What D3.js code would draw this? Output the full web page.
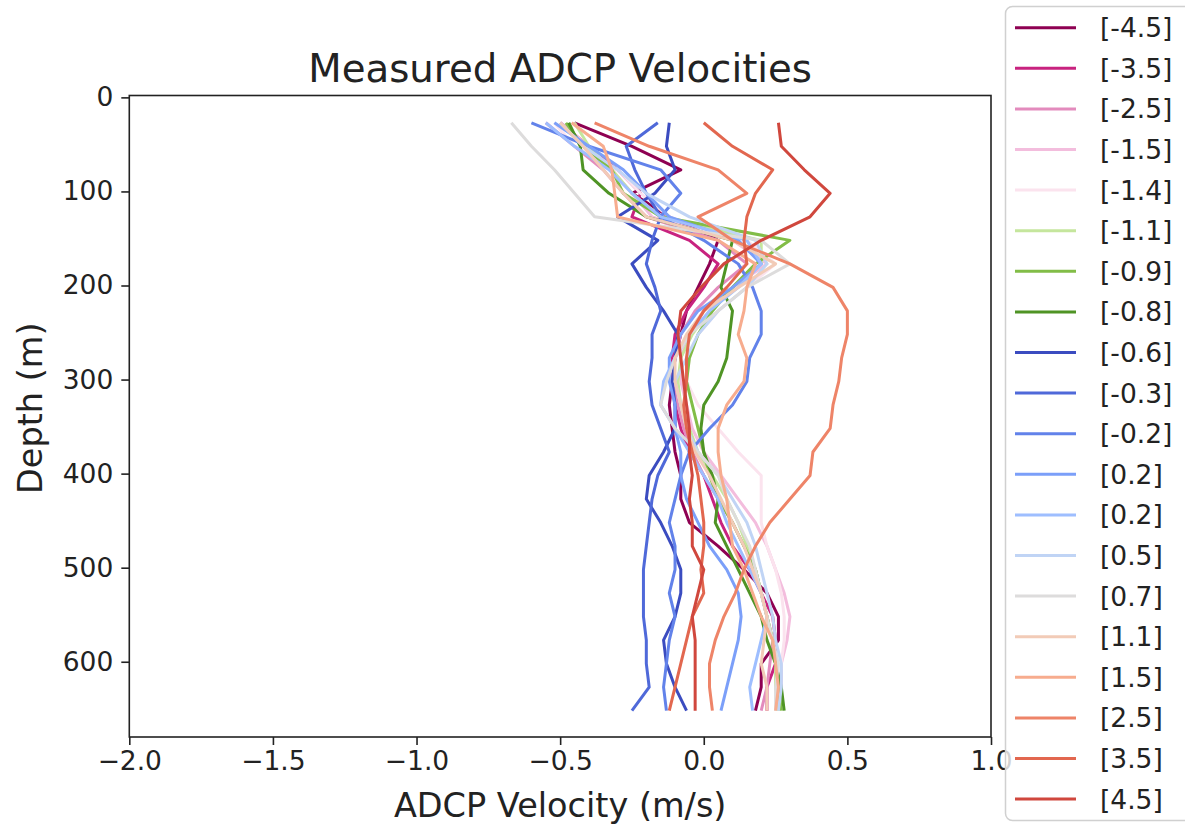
<!DOCTYPE html>
<html>
<head>
<meta charset="utf-8">
<script src="https://cdn.jsdelivr.net/npm/d3@7"></script>
<style>
  body { margin: 0; background: #fff; }
  svg text { font-family: "DejaVu Sans", sans-serif; fill: #222; }
</style>
</head>
<body>
<div id="chart"></div>
<script>
// depth bins (m)
const depths = [27, 52, 77, 102, 127, 152, 177, 202, 227, 252, 277, 302, 327,
                352, 377, 402, 427, 452, 477, 502, 527, 552, 577, 602, 627, 652];

const labels = ["[-4.5]", "[-3.5]", "[-2.5]", "[-1.5]", "[-1.4]", "[-1.1]", "[-0.9]", "[-0.8]",
                "[-0.6]", "[-0.3]", "[-0.2]", "[0.2]", "[0.2]", "[0.5]", "[0.7]", "[1.1]",
                "[1.5]", "[2.5]", "[3.5]", "[4.5]"];

const colors = ["#8e0152", "#c8237f", "#e38bbd", "#f3bddd", "#fbe3ee", "#c5e69d", "#82bd47", "#4f9425",
                "#3b4cc0", "#4f69d9", "#6282ea", "#7b9ff9", "#9ebeff", "#c0d4f5", "#dddcdc", "#f2cbb7",
                "#f7ac8e", "#ee8468", "#e2674f", "#d0473d"];

// velocities (m/s), one value per depth bin
const v_m45 = [-0.45, -0.25, -0.08, -0.25, -0.12, 0.05, 0.02, -0.02, -0.06, -0.08, -0.10, -0.11, -0.12,
               -0.11, -0.10, -0.08, -0.08, -0.05, 0.05, 0.14, 0.22, 0.26, 0.26, 0.20, 0.20, 0.18];
const v_m35 = [-0.50, -0.40, -0.30, -0.22, -0.25, -0.05, 0.05, 0.00, -0.06, -0.10, -0.11, -0.10, -0.10,
               -0.08, -0.05, 0.00, 0.03, 0.06, 0.10, 0.16, 0.20, 0.24, 0.25, 0.25, 0.22, 0.22];
const v_m25 = [-0.55, -0.45, -0.35, -0.28, -0.20, 0.05, 0.15, 0.05, -0.03, -0.08, -0.10, -0.11, -0.09,
               -0.07, -0.04, 0.00, 0.05, 0.10, 0.14, 0.18, 0.20, 0.22, 0.24, 0.23, 0.22, 0.20];
const v_m15 = [-0.50, -0.40, -0.32, -0.25, -0.18, 0.10, 0.22, 0.10, 0.00, -0.05, -0.08, -0.08, -0.06,
               -0.04, 0.00, 0.06, 0.12, 0.18, 0.22, 0.25, 0.28, 0.30, 0.29, 0.27, 0.27, 0.26];
const v_m14 = [-0.52, -0.45, -0.30, -0.22, -0.12, 0.15, 0.25, 0.15, 0.05, -0.02, -0.05, -0.06, -0.02,
               0.05, 0.12, 0.20, 0.20, 0.20, 0.22, 0.25, 0.27, 0.28, 0.28, 0.27, 0.26, 0.26];
const v_m11 = [-0.45, -0.40, -0.32, -0.25, -0.15, 0.20, 0.20, 0.10, 0.02, -0.04, -0.08, -0.09, -0.08,
               -0.05, -0.02, 0.03, 0.08, 0.12, 0.15, 0.18, 0.20, 0.22, 0.24, 0.25, 0.25, 0.26];
const v_m09 = [-0.48, -0.42, -0.32, -0.28, -0.15, 0.30, 0.18, 0.10, 0.03, -0.02, -0.05, -0.06, -0.04,
               -0.02, 0.00, 0.02, 0.05, 0.10, 0.14, 0.18, 0.20, 0.22, 0.24, 0.25, 0.26, 0.27];
const v_m08 = [-0.47, -0.43, -0.42, -0.33, -0.20, 0.10, 0.08, 0.06, 0.10, 0.09, 0.08, 0.05, 0.00,
               -0.01, 0.00, 0.03, 0.05, 0.04, 0.08, 0.12, 0.16, 0.20, 0.22, 0.25, 0.27, 0.28];
const v_m06 = [-0.12, -0.13, -0.10, -0.17, -0.30, -0.16, -0.25, -0.20, -0.14, -0.09, -0.10, -0.11, -0.10,
               -0.10, -0.14, -0.19, -0.20, -0.15, -0.11, -0.08, -0.08, -0.10, -0.14, -0.13, -0.10, -0.06];
const v_m03 = [-0.16, -0.27, -0.24, -0.20, -0.15, -0.18, -0.20, -0.17, -0.15, -0.18, -0.18, -0.19, -0.18,
               -0.15, -0.12, -0.16, -0.18, -0.19, -0.20, -0.21, -0.21, -0.21, -0.20, -0.20, -0.19, -0.25];
const v_m02 = [-0.60, -0.40, -0.15, -0.08, -0.15, 0.00, 0.12, 0.17, 0.20, 0.20, 0.16, 0.15, 0.10,
               0.02, -0.05, -0.08, -0.10, -0.12, -0.10, -0.10, -0.12, -0.10, -0.12, -0.13, -0.14, -0.13];
const v_p02a = [-0.52, -0.40, -0.28, -0.20, -0.12, 0.12, 0.20, 0.10, -0.02, -0.08, -0.12, -0.12, -0.10,
                -0.10, -0.08, -0.08, -0.06, -0.02, 0.02, 0.08, 0.12, 0.13, 0.12, 0.10, 0.08, 0.06];
const v_p02b = [-0.55, -0.45, -0.33, -0.25, -0.15, 0.15, 0.20, 0.12, 0.02, -0.05, -0.10, -0.14, -0.15,
                -0.10, -0.05, 0.00, 0.05, 0.08, 0.12, 0.16, 0.20, 0.22, 0.20, 0.18, 0.16, 0.17];
const v_p05 = [-0.50, -0.42, -0.30, -0.20, -0.05, 0.18, 0.22, 0.15, 0.05, -0.02, -0.06, -0.10, -0.08,
               -0.06, -0.02, 0.05, 0.10, 0.15, 0.18, 0.20, 0.22, 0.24, 0.25, 0.27, 0.27, 0.26];
const v_p07 = [-0.67, -0.60, -0.52, -0.45, -0.38, 0.20, 0.30, 0.15, 0.05, -0.05, -0.10, -0.13, -0.15,
               -0.10, -0.02, 0.05, 0.08, 0.12, 0.16, 0.18, 0.20, 0.22, 0.24, 0.26, 0.25, 0.25];
const v_p11 = [-0.50, -0.42, -0.35, -0.28, -0.20, 0.10, 0.25, 0.12, 0.00, -0.06, -0.10, -0.10, -0.08,
               -0.06, -0.03, 0.02, 0.06, 0.10, 0.14, 0.17, 0.20, 0.22, 0.21, 0.20, 0.22, 0.22];
const v_p15 = [-0.46, -0.35, -0.32, -0.31, -0.30, 0.05, 0.18, 0.15, 0.14, 0.12, 0.15, 0.14, 0.08,
               0.05, 0.05, 0.06, 0.08, 0.09, 0.10, 0.14, 0.17, 0.20, 0.24, 0.25, 0.26, 0.25];
const v_p25 = [-0.38, -0.19, 0.05, 0.15, -0.02, 0.10, 0.30, 0.45, 0.50, 0.50, 0.48, 0.47, 0.45,
               0.44, 0.38, 0.37, 0.30, 0.23, 0.18, 0.14, 0.11, 0.07, 0.04, 0.02, 0.02, 0.03];
const v_p35 = [0.00, 0.10, 0.24, 0.18, 0.15, 0.14, 0.15, 0.08, 0.00, -0.05, -0.06, -0.06, -0.07,
               -0.06, -0.04, -0.02, -0.01, 0.00, 0.00, -0.01, 0.00, -0.04, -0.06, -0.08, -0.10, -0.12];
const v_p45 = [0.26, 0.27, 0.35, 0.44, 0.37, 0.20, 0.07, -0.01, -0.08, -0.09, -0.08, -0.07, -0.06,
               -0.05, -0.05, -0.04, -0.05, -0.04, -0.04, 0.00, -0.02, -0.04, -0.03, -0.03, -0.03, -0.03];

const series = [v_m45, v_m35, v_m25, v_m15, v_m14, v_m11, v_m09, v_m08, v_m06, v_m03,
                v_m02, v_p02a, v_p02b, v_p05, v_p07, v_p11, v_p15, v_p25, v_p35, v_p45];

const xTicks = [-2.0, -1.5, -1.0, -0.5, 0.0, 0.5, 1.0];
const yTicks = [0, 100, 200, 300, 400, 500, 600];

const W = 1185, H = 824;
const plot = { left: 129.3, right: 991, top: 95.5, bottom: 737 };

const svg = d3.select("#chart").append("svg")
  .attr("width", W)
  .attr("height", H);

const x = d3.scaleLinear().domain([-2, 1]).range([plot.left, plot.right]);
const y = d3.scaleLinear().domain([-2, 680]).range([plot.top, plot.bottom]);

// profiles
const line = d3.line()
  .x(d => x(d[1]))
  .y(d => y(d[0]));

svg.append("g")
  .selectAll("path")
  .data(series)
  .enter()
  .append("path")
  .attr("d", vals => line(vals.map((v, i) => [depths[i], v])))
  .attr("fill", "none")
  .attr("stroke", (_, i) => colors[i])
  .attr("stroke-width", 3)
  .attr("stroke-linejoin", "round");

// axes
const xAxis = svg.append("g")
  .attr("transform", `translate(0,${plot.bottom})`)
  .call(d3.axisBottom(x).tickValues(xTicks).tickFormat(d3.format(".1f"))
    .tickSize(8).tickSizeOuter(0).tickPadding(6));
const yAxis = svg.append("g")
  .attr("transform", `translate(${plot.left},0)`)
  .call(d3.axisLeft(y).tickValues(yTicks).tickSize(8).tickSizeOuter(0).tickPadding(8));

[xAxis, yAxis].forEach(g => {
  g.select(".domain").remove();
  g.selectAll("line").attr("stroke", "#222").attr("stroke-width", 1.6);
  g.selectAll("text").style("font-size", "26.5px").attr("fill", "#222");
});

svg.append("rect")
  .attr("x", plot.left)
  .attr("y", plot.top)
  .attr("width", plot.right - plot.left)
  .attr("height", plot.bottom - plot.top)
  .attr("fill", "none")
  .attr("stroke", "#222")
  .attr("stroke-width", 1.6);

// titles
svg.append("text")
  .attr("x", (plot.left + plot.right) / 2)
  .attr("y", 82)
  .attr("text-anchor", "middle")
  .style("font-size", "38.7px")
  .text("Measured ADCP Velocities");

svg.append("text")
  .attr("x", (plot.left + plot.right) / 2)
  .attr("y", 817)
  .attr("text-anchor", "middle")
  .style("font-size", "33.5px")
  .text("ADCP Velocity (m/s)");

svg.append("text")
  .attr("transform", `translate(42,${(plot.top + plot.bottom) / 2 - 8}) rotate(-90)`)
  .attr("text-anchor", "middle")
  .style("font-size", "33.5px")
  .text("Depth (m)");

// legend
const legend = svg.append("g");
legend.append("rect")
  .attr("x", 1005.5)
  .attr("y", 6.5)
  .attr("width", 240)
  .attr("height", 814)
  .attr("rx", 7)
  .attr("fill", "white")
  .attr("fill-opacity", 0.8)
  .attr("stroke", "#d0d0d0")
  .attr("stroke-width", 1.5);

const rows = legend.selectAll("g.row")
  .data(labels)
  .enter()
  .append("g")
  .attr("class", "row")
  .attr("transform", (_, i) => `translate(0,${27.7 + i * 40.6})`);

rows.append("line")
  .attr("x1", 1015)
  .attr("x2", 1076)
  .attr("stroke", (_, i) => colors[i])
  .attr("stroke-width", 3);

rows.append("text")
  .attr("x", 1100)
  .attr("dy", "0.36em")
  .style("font-size", "26.5px")
  .text(d => d);
</script>
</body>
</html>
